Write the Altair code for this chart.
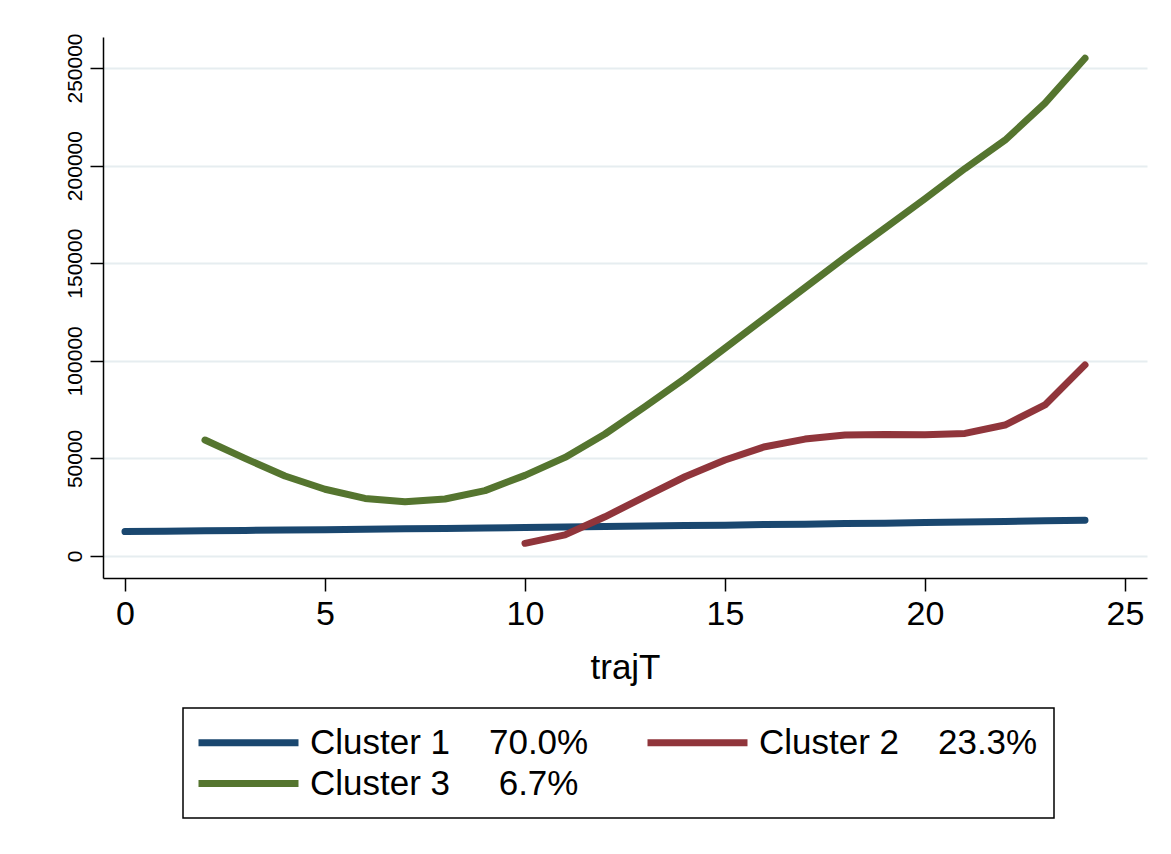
import altair as alt
import pandas as pd

NB = "\u00a0"
# Series names (legend labels)
names = [
    "Cluster 1" + NB * 4 + "70.0%",
    "Cluster 2" + NB * 4 + "23.3%" + NB * 2,
    "Cluster 3" + NB * 5 + "6.7%",
]
colors = ["#1a476f", "#90353b", "#55752f"]

# Cluster 1 (x = 0..24)
x1 = list(range(0, 25))
y1 = [12500, 12700, 12900, 13100, 13300, 13500, 13700, 13900, 14100, 14300,
      14600, 14900, 15100, 15400, 15600, 15800, 16100, 16300, 16600, 16800,
      17100, 17400, 17700, 18000, 18300]

# Cluster 2 (x = 10..24)
x2 = list(range(10, 25))
y2 = [6500, 10800, 20100, 30400, 40600, 49200, 56000, 59900, 62000, 62300,
      62100, 62800, 67100, 77400, 97900]

# Cluster 3 (x = 2..24)
x3 = list(range(2, 25))
y3 = [59400, 50000, 41000, 34200, 29500, 27800, 29200, 33500, 41300, 50500,
      62500, 76500, 91000, 106500, 122000, 137500, 153000, 168000, 183000,
      198500, 213000, 232000, 255000]

x_ticks = [0, 5, 10, 15, 20, 25]
y_ticks = [0, 50000, 100000, 150000, 200000, 250000]

rows = []
for name, xs, ys in zip(names, [x1, x2, x3], [y1, y2, y3]):
    for xv, yv in zip(xs, ys):
        rows.append({"trajT": xv, "value": yv, "cluster": name})
df = pd.DataFrame(rows)

FONT = "Liberation Sans"

chart = alt.Chart(df).mark_line(
    strokeWidth=7, strokeCap="round", strokeJoin="round"
).encode(
    x=alt.X("trajT:Q",
            scale=alt.Scale(domain=[-0.55, 25.55], nice=False, zero=False),
            axis=alt.Axis(values=x_ticks, title="trajT", grid=False,
                          labelFontSize=34, titleFontSize=35,
                          tickSize=13, labelPadding=6, titlePadding=19,
                          titleFontWeight="normal")),
    y=alt.Y("value:Q",
            scale=alt.Scale(domain=[-11270, 265880], nice=False, zero=False),
            axis=alt.Axis(values=y_ticks, title=None, grid=True, format="d",
                          labelAngle=270, labelAlign="center",
                          labelBaseline="alphabetic",
                          labelFontSize=21, tickSize=13, labelPadding=9)),
    color=alt.Color("cluster:N",
                    scale=alt.Scale(domain=names, range=colors),
                    sort=names,
                    legend=alt.Legend(title=None, orient="none",
                                      legendX=80, legendY=671,
                                      columns=2, direction="horizontal")),
    detail="cluster:N",
).properties(
    width=1044,
    height=541,
    autosize=alt.AutoSizeParams(type="none"),
    padding={"left": 95, "top": 29, "right": 16, "bottom": 260},
).configure_view(
    stroke=None
).configure_axis(
    labelFont=FONT, titleFont=FONT, labelColor="black", titleColor="black",
    domainColor="black", domainWidth=1.5, tickColor="black", tickWidth=1.5,
    gridColor="#e6edf0", gridWidth=2,
).configure_legend(
    labelFont=FONT, labelFontSize=35, labelColor="black", labelLimit=0,
    symbolType="M-3.333,0L3.333,0", symbolSize=900, symbolStrokeWidth=7,
    symbolOpacity=1, symbolOffset=31, labelOffset=43, columnPadding=44,
    rowPadding=4, padding=16, strokeColor="black", strokeWidth=1.5,
    fillColor="white",
)

chart.save("out.html", embed_options={"renderer": "svg", "actions": False})
